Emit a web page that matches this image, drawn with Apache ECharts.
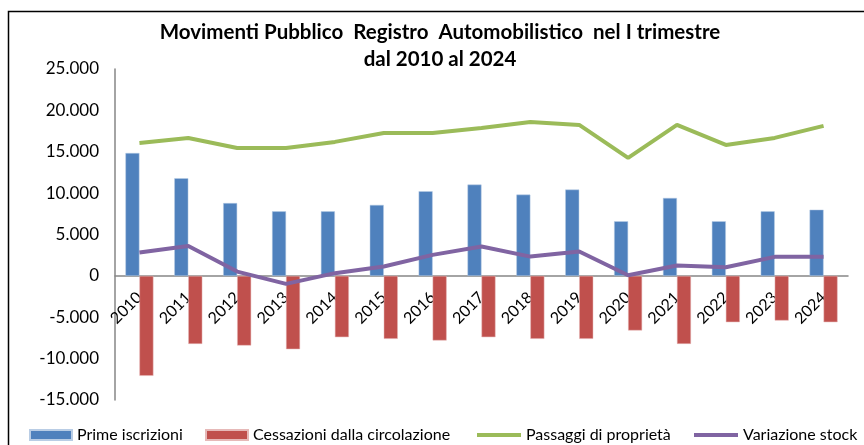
<!DOCTYPE html>
<html><head><meta charset="utf-8">
<script src="https://cdn.jsdelivr.net/npm/echarts@6/dist/echarts.min.js"></script>
<style>html,body{margin:0;padding:0;background:#fff}#c{width:864px;height:445px}</style>
</head><body><div id="c"></div>
<script>
const categories = ['2010','2011','2012','2013','2014','2015','2016','2017','2018','2019','2020','2021','2022','2023','2024'];
const primeIscrizioni = [14850, 11800, 8800, 7800, 7800, 8580, 10230, 11030, 9820, 10430, 6600, 9420, 6600, 7800, 8000];
const cessazioni = [-12080, -8220, -8420, -8860, -7410, -7610, -7810, -7410, -7610, -7610, -6600, -8220, -5600, -5400, -5600];
const passaggi = [16070, 16670, 15460, 15460, 16190, 17270, 17270, 17880, 18600, 18240, 14250, 18240, 15820, 16670, 18120];
const variazione = [2820, 3620, 520, -970, 330, 1130, 2540, 3540, 2330, 2940, 80, 1250, 1050, 2300, 2300];
const yTicks = {min: -15000, max: 25000, interval: 5000};

const FONT = 'Lato';
const chart = echarts.init(document.getElementById('c'), null, {renderer: 'canvas'});
function fmt(v){ const s = Math.abs(v).toString().replace(/\B(?=(\d{3})+(?!\d))/g, '.'); return (v<0?'-':'') + s; }
const legendBase = {bottom: 2, padding: 0, itemGap: 0, textStyle: {fontFamily: FONT, fontSize: 16, color: '#000'}, selectedMode: false};
const gridTop = 69, gridBottom = 45, plotH = 445 - gridTop - gridBottom;
const zeroOffset = -plotH * (0 - yTicks.min) / (yTicks.max - yTicks.min);
chart.setOption({
  animation: false,
  textStyle: {fontFamily: FONT},
  title: {
    text: 'Movimenti Pubblico  Registro  Automobilistico  nel I trimestre\ndal 2010 al 2024',
    left: 435, top: 14, textAlign: 'center',
    textStyle: {fontFamily: FONT, fontWeight: 'bold', fontSize: 20.5, lineHeight: 27, color: '#000'}
  },
  graphic: [{type: 'rect', shape: {x: 8.5, y: 11.5, width: 900, height: 500}, style: {fill: 'none', stroke: '#000', lineWidth: 1.5}, silent: true}],
  legend: [
    Object.assign({}, legendBase, {left: 29, icon: 'rect', data: [{name: 'Prime iscrizioni', icon: 'rect'}], itemWidth: 42, itemHeight: 10}),
    Object.assign({}, legendBase, {left: 205, icon: 'rect', data: [{name: 'Cessazioni dalla circolazione', icon: 'rect'}], itemWidth: 42, itemHeight: 10}),
    Object.assign({}, legendBase, {left: 477, icon: 'rect', data: [{name: 'Passaggi di proprietà', icon: 'rect'}], itemWidth: 44, itemHeight: 4}),
    Object.assign({}, legendBase, {left: 694, icon: 'rect', data: [{name: 'Variazione stock', icon: 'rect'}], itemWidth: 44, itemHeight: 4})
  ],
  grid: {left: 115, right: 16, top: gridTop, bottom: gridBottom},
  xAxis: {
    type: 'category', data: categories,
    offset: zeroOffset,
    axisLine: {onZero: false, lineStyle: {color: '#868686', width: 1.5}},
    axisTick: {show: false},
    axisLabel: {rotate: 45, fontFamily: FONT, fontSize: 16, color: '#000', margin: 19, interval: 0}
  },
  yAxis: {
    type: 'value', min: yTicks.min, max: yTicks.max, interval: yTicks.interval,
    splitLine: {show: false},
    axisLine: {show: true, lineStyle: {color: '#868686', width: 1.5}},
    axisTick: {show: false},
    axisLabel: {formatter: fmt, fontFamily: FONT, fontSize: 17, color: '#000', margin: 16}
  },
  series: [
    {name: 'Prime iscrizioni', type: 'bar', data: primeIscrizioni, barWidth: 14, barGap: '0%', itemStyle: {color: '#4F81BD', borderColor: '#B9CDE5', borderWidth: 0.5}},
    {name: 'Cessazioni dalla circolazione', type: 'bar', data: cessazioni, barWidth: 14, barGap: '0%', itemStyle: {color: '#C0504D', borderColor: '#E6B9B8', borderWidth: 0.5}},
    {name: 'Passaggi di proprietà', type: 'line', data: passaggi, symbol: 'none', lineStyle: {color: '#9BBB59', width: 4}, itemStyle: {color: '#9BBB59'}, z: 3},
    {name: 'Variazione stock', type: 'line', data: variazione, symbol: 'none', lineStyle: {color: '#8064A2', width: 4}, itemStyle: {color: '#8064A2'}, z: 4}
  ]
});
</script></body></html>
